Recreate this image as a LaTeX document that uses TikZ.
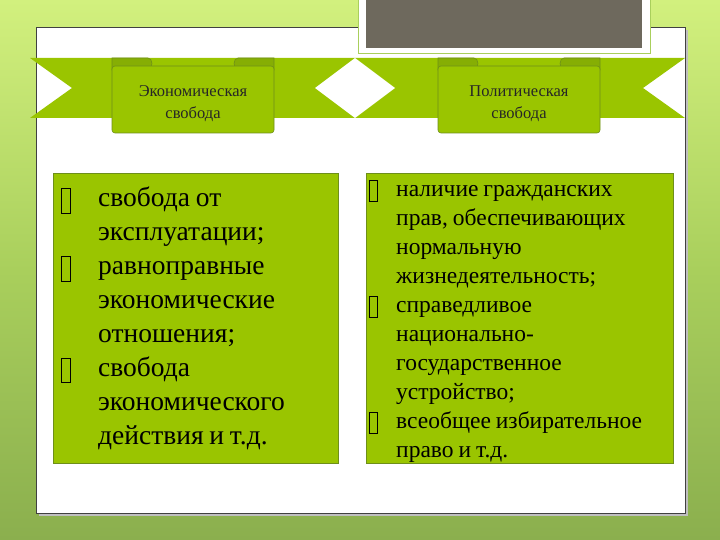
\documentclass[tikz,border=0pt]{standalone}
\usepackage{fontspec}
\setmainfont{Liberation Serif}
\definecolor{bgtop}{HTML}{D2F07E}
\definecolor{bgmid}{HTML}{A9CF5C}
\definecolor{bgbot}{HTML}{8BAF4E}
\definecolor{leaf}{HTML}{9AC500}
\definecolor{leafdark}{HTML}{86AE04}
\definecolor{leafline}{HTML}{6E8F1A}
\definecolor{slate}{HTML}{6E695D}
\newcommand{\bx}{{\setlength{\fboxsep}{0pt}\setlength{\fboxrule}{0.6pt}\fbox{\vphantom{Hg}\hspace{0.3em}}}}
\newcommand{\tightsp}{\spaceskip=0.21em plus 0.1em\relax}
\tikzset{
  textbox/.style={draw=leafline, line width=0.6pt, fill=leaf},
  banner/.style={draw=leafline, line width=0.6pt, fill=leaf, rounded corners=3pt},
  fold/.style={draw=leafline, line width=0.6pt, fill=leafdark},
  bannertext/.style={font=\fontsize{16.5}{22}\selectfont, align=center, text=black!85},
}
\begin{document}
\begin{tikzpicture}[x=1pt,y=-1pt]
\useasboundingbox (0,0) rectangle (720,540);
% background
\shade[top color=bgtop, bottom color=bgbot, middle color=bgmid] (0,0) rectangle (720,540);
% white panel
\fill[black!25] (39,30) rectangle (688,516);
\node[draw=black!75, line width=1pt, fill=white, minimum width=649pt, minimum height=486pt, anchor=north west, inner sep=0pt] (panel) at (36,27) {};
% grey picture frame
\node[draw=bgmid, line width=0.8pt, fill=white, minimum width=292pt, minimum height=55pt, anchor=north west, inner sep=0pt] (frame) at (358,-2) {};
\node[fill=slate, minimum width=276pt, minimum height=50pt, anchor=north west, inner sep=0pt] (photo) at (366,-2) {};
% ribbon band
\fill[leaf] (30,58) -- (685,58) -- (643,88) -- (685,118) -- (30,118) -- (72,88) -- cycle;
\fill[white] (315,88) -- (355,58) -- (395,88) -- (355,118) -- cycle;
% banners
\foreach \cx/\nm/\txt in {193/eco/{Экономическая\\свобода}, 519/pol/{Политическая\\свобода}}{
  \draw[fold] (\cx-81,70) -- (\cx-81,58) -- (\cx-45,58) arc (270:450:4 and 5.5) -- cycle;
  \draw[fold] (\cx+81,70) -- (\cx+81,58) -- (\cx+45,58) arc (270:90:4 and 5.5) -- cycle;
  \draw[banner] (\cx-81,66) rectangle (\cx+81,133);
  \node[bannertext] (\nm) at (\cx,104) {\txt};
}
% text boxes
\node[textbox, minimum width=285pt, minimum height=290pt, anchor=north west, inner sep=0pt] (left) at (53,173) {};
\node[textbox, minimum width=307pt, minimum height=290pt, anchor=north west, inner sep=0pt] (right) at (366,173) {};
\node[anchor=north west, inner sep=0pt, text width=280pt, align=left,
  font=\fontsize{27.5}{33.9}\selectfont] (lefttext) at (61,187) {\tightsp
\makebox[37pt][l]{\bx}свобода от\\
\hspace*{37pt}эксплуатации;\\
\makebox[37pt][l]{\bx}равноправные\\
\hspace*{37pt}экономические\\
\hspace*{37pt}отношения;\\
\makebox[37pt][l]{\bx}свобода\\
\hspace*{37pt}экономического\\
\hspace*{37pt}действия и т.д.};
\node[anchor=north west, inner sep=0pt, text width=305pt, align=left,
  font=\fontsize{23.5}{29}\selectfont] (righttext) at (369,180) {\tightsp
\makebox[27pt][l]{\bx}наличие гражданских\\
\hspace*{27pt}прав, обеспечивающих\\
\hspace*{27pt}нормальную\\
\hspace*{27pt}жизнедеятельность;\\
\makebox[27pt][l]{\bx}справедливое\\
\hspace*{27pt}национально-\\
\hspace*{27pt}государственное\\
\hspace*{27pt}устройство;\\
\makebox[27pt][l]{\bx}всеобщее избирательное\\
\hspace*{27pt}право и т.д.};
\end{tikzpicture}
\end{document}
